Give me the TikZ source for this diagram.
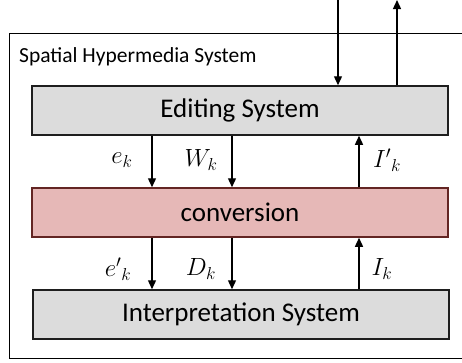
\documentclass[tikz,border=0pt]{standalone}
\usepackage{fontspec}
\setmainfont{Carlito}
\usepackage{xcolor}
\usetikzlibrary{positioning,arrows.meta,calc}
\definecolor{sysclr}{RGB}{220,220,220}
\definecolor{convclr}{RGB}{230,184,183}
\definecolor{convdraw}{RGB}{99,37,35}
\definecolor{lineclr}{RGB}{30,30,30}
\tikzset{
  sysbox/.style={rectangle,draw=lineclr,line width=1.5pt,fill=sysclr,
                 minimum width=416pt,minimum height=49pt,inner sep=0pt,
                 font=\fontsize{27}{32}\selectfont},
  convbox/.style={sysbox,draw=convdraw,fill=convclr},
  edge/.style={-{Triangle[length=9pt,width=8pt]},line width=1.3pt,draw=black},
  lbl/.style={inner sep=0pt,font=\fontsize{27}{32}\selectfont},
}

\begin{document}
\begin{tikzpicture}[x=1pt,y=-1pt]
\useasboundingbox (0,0) rectangle (462,362);
\clip (0,0) rectangle (462,362);
% outer frame
\draw[line width=1pt] (9,33) rectangle (480,358);
\node[anchor=west,inner sep=0pt,font=\fontsize{21.5}{26}\selectfont]
  (title) at (19,57) {Spatial Hypermedia System};
% the three layers
\node[sysbox] (edit) at (240,110.5) {Editing System};
\node[convbox] (conv) at (240,212.5) {conversion};
\node[sysbox] (interp) at (241,314.5) {Interpretation System};
% x positions of the connectors
\coordinate (xe) at (152,0);
\coordinate (xw) at (232,0);
\coordinate (xi) at (359,0);
\coordinate (inTop) at (338,0);
\coordinate (outTop) at (397,0);
% connectors
\draw[edge] (inTop) -- (edit.north -| inTop);
\draw[edge] (edit.north -| outTop) -- (outTop);
\draw[edge] (edit.south -| xe) -- (conv.north -| xe);
\draw[edge] (edit.south -| xw) -- (conv.north -| xw);
\draw[edge] (conv.north -| xi) -- (edit.south -| xi);
\draw[edge] (conv.south -| xe) -- (interp.north -| xe);
\draw[edge] (conv.south -| xw) -- (interp.north -| xw);
\draw[edge] (interp.north -| xi) -- (conv.south -| xi);
% labels
\node[lbl] (ek) at (122,160) {$e_k$};
\node[lbl] (wk) at (201,160) {$W_k$};
\node[lbl] (ipk) at (387,160) {$I'{}_k$};
\node[lbl] (epk) at (118,269) {$e'{}_k$};
\node[lbl] (dk) at (201,269) {$D_k$};
\node[lbl] (ik) at (382,269) {$I_k$};
\end{tikzpicture}
\end{document}
